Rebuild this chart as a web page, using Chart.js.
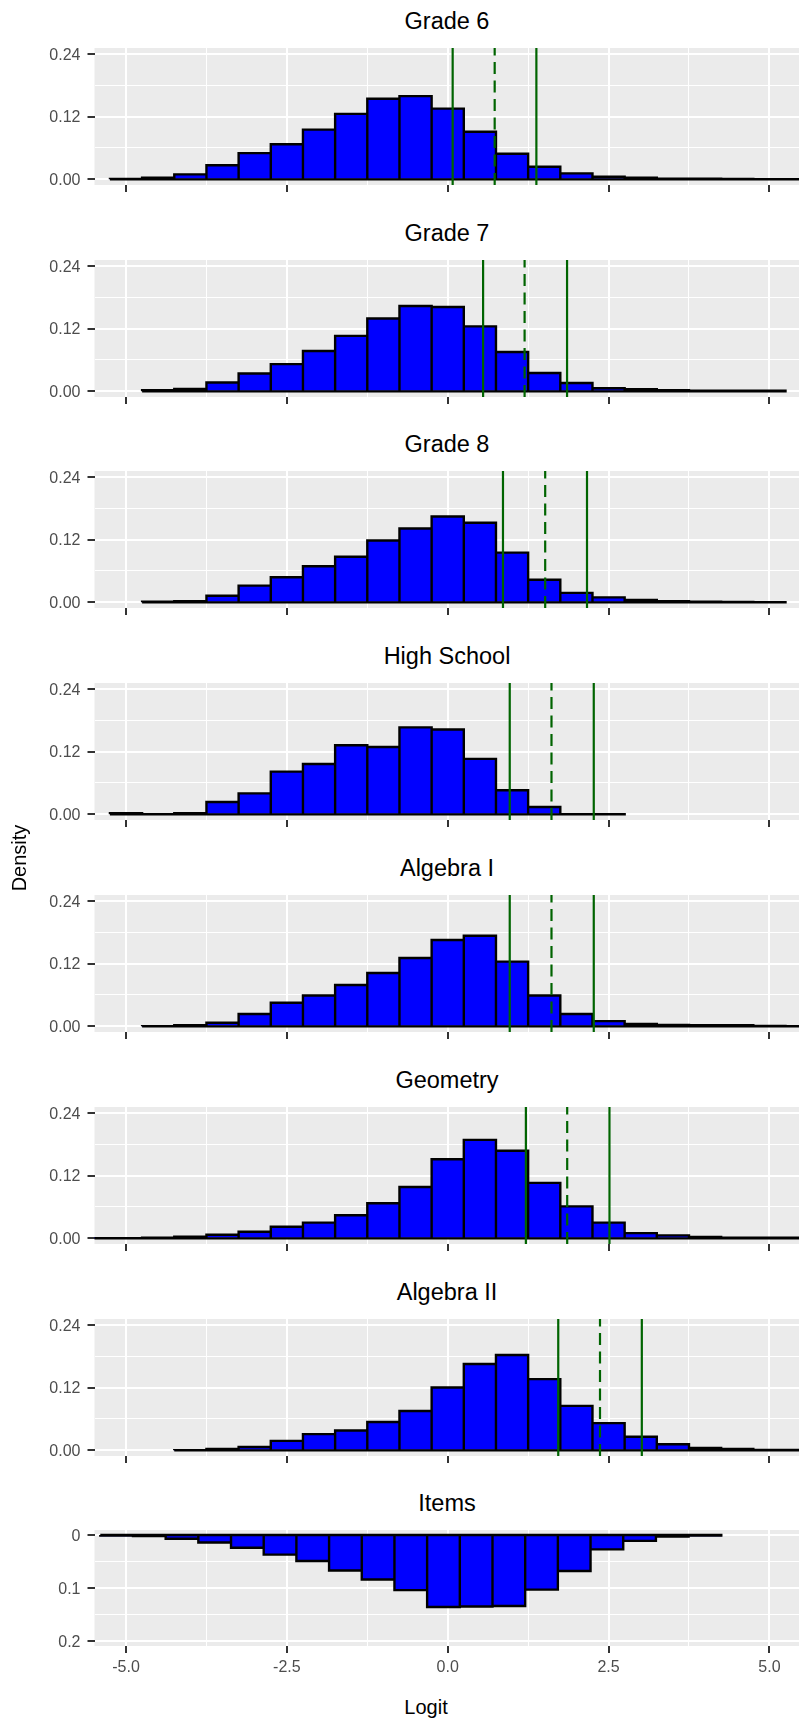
<!DOCTYPE html>
<html>
<head>
<meta charset="utf-8">
<script src="https://cdn.jsdelivr.net/npm/chart.js@4.4.1/dist/chart.umd.min.js"></script>
<style>
html,body{margin:0;padding:0;background:#fff;width:799px;height:1720px;overflow:hidden;font-family:"Liberation Sans",Arial,sans-serif;}
#wrap{position:relative;width:799px;height:1720px;overflow:hidden;}
.title{position:absolute;left:94.5px;width:705px;text-align:center;font-size:23.5px;line-height:24px;color:#000;white-space:nowrap;}
.axt{position:absolute;font-size:20px;line-height:24px;color:#000;white-space:nowrap;text-align:center;}
</style>
</head>
<body>
<div id="wrap"></div>
<script>
// ---------- data ----------
const panelTitles = ['Grade 6','Grade 7','Grade 8','High School','Algebra I','Geometry','Algebra II','Items'];

const xMajorTicks = [-5, -2.5, 0, 2.5, 5];
const xMinorTicks = [-3.75, -1.25, 1.25, 3.75];
const xTickLabels = ['-5.0', '-2.5', '0.0', '2.5', '5.0'];

const densityMajorTicks = [0, 0.12, 0.24];
const densityMinorTicks = [0.06, 0.18];
const densityTickLabels = ['0.00', '0.12', '0.24'];

const itemMajorTicks = [0, 0.1, 0.2];
const itemMinorTicks = [0.05, 0.15];
const itemTickLabels = ['0', '0.1', '0.2'];

const studentBinWidth = 0.5;
const itemBinWidth = 0.508;

const grade6Bins = [-5,-4.5,-4,-3.5,-3,-2.5,-2,-1.5,-1,-0.5,0,0.5,1,1.5,2,2.5,3,3.5,4,4.5,5,5.5];
const grade6Density = [0.0006,0.003,0.0095,0.027,0.050,0.067,0.095,0.125,0.154,0.159,0.135,0.091,0.049,0.024,0.0114,0.005,0.003,0.001,0.001,0.0008,0.0005,0.0005];
const grade6Cuts = [0.077, 0.73, 1.378];

const grade7Bins = [-4.5,-4,-3.5,-3,-2.5,-2,-1.5,-1,-0.5,0,0.5,1,1.5,2,2.5,3,3.5,4,4.5,5];
const grade7Density = [0.002,0.0045,0.017,0.034,0.052,0.077,0.106,0.139,0.163,0.161,0.124,0.075,0.035,0.016,0.006,0.004,0.002,0.001,0.001,0.001];
const grade7Cuts = [0.55, 1.195, 1.855];

const grade8Bins = [-4.5,-4,-3.5,-3,-2.5,-2,-1.5,-1,-0.5,0,0.5,1,1.5,2,2.5,3,3.5,4,4.5,5];
const grade8Density = [0.001,0.002,0.0127,0.032,0.048,0.069,0.087,0.118,0.141,0.164,0.152,0.095,0.043,0.018,0.0095,0.0045,0.002,0.001,0.0007,0.0005];
const grade8Cuts = [0.859, 1.515, 2.165];

const highSchoolBins = [-5,-4.5,-4,-3.5,-3,-2.5,-2,-1.5,-1,-0.5,0,0.5,1,1.5,2,2.5];
const highSchoolDensity = [0.002,0.0005,0.002,0.0236,0.040,0.0815,0.096,0.132,0.1286,0.166,0.162,0.106,0.046,0.014,0.0005,0.0005];
const highSchoolCuts = [0.964, 1.613, 2.27];

const algebra1Bins = [-4.5,-4,-3.5,-3,-2.5,-2,-1.5,-1,-0.5,0,0.5,1,1.5,2,2.5,3,3.5,4,4.5,5,5.5];
const algebra1Density = [0.0005,0.002,0.007,0.0236,0.045,0.059,0.079,0.102,0.1305,0.165,0.173,0.1235,0.059,0.0236,0.010,0.0045,0.0025,0.002,0.002,0.0008,0.0005];
const algebra1Cuts = [0.964, 1.613, 2.27];

const geometryBins = [-5.5,-5,-4.5,-4,-3.5,-3,-2.5,-2,-1.5,-1,-0.5,0,0.5,1,1.5,2,2.5,3,3.5,4,4.5,5,5.5];
const geometryDensity = [0.0005,0.0005,0.001,0.0032,0.007,0.0127,0.022,0.030,0.044,0.067,0.098,0.151,0.188,0.1674,0.106,0.061,0.030,0.010,0.0057,0.0025,0.001,0.001,0.001];
const geometryCuts = [1.215, 1.857, 2.514];

const algebra2Bins = [-4,-3.5,-3,-2.5,-2,-1.5,-1,-0.5,0,0.5,1,1.5,2,2.5,3,3.5,4,4.5,5,5.5];
const algebra2Density = [0.0005,0.0025,0.0064,0.018,0.031,0.038,0.054,0.075,0.120,0.165,0.182,0.136,0.085,0.052,0.026,0.0115,0.0045,0.0025,0.0008,0.0008];
const algebra2Cuts = [1.718, 2.367, 3.017];

const itemBins = [-5.146,-4.638,-4.13,-3.622,-3.114,-2.606,-2.098,-1.59,-1.082,-0.574,-0.066,0.442,0.95,1.458,1.966,2.474,2.982,3.49,3.998];
const itemDensity = [0.001,0.002,0.007,0.014,0.024,0.037,0.049,0.067,0.084,0.104,0.136,0.135,0.134,0.103,0.068,0.027,0.011,0.003,0.001];

const cutLineStyles = ['solid', 'dashed', 'solid'];

// ---------- layout / style ----------
const X_MIN = -5.49, X_MAX = 5.46;
const PANEL_LEFT = 94.5;
const FIRST_TOP = 47.7, PANEL_STEP = 211.8;
const DENSITY_H = 137.3, ITEMS_H = 115.7;
const DENSITY_RANGE = [-0.0108, 0.2508];
const ITEMS_RANGE = [-0.0095, 0.2095];
const PAD_T = 22;

Chart.defaults.font.family = "'Liberation Sans', Arial, sans-serif";

const panels = [
  {bins: grade6Bins, vals: grade6Density, cuts: grade6Cuts},
  {bins: grade7Bins, vals: grade7Density, cuts: grade7Cuts},
  {bins: grade8Bins, vals: grade8Density, cuts: grade8Cuts},
  {bins: highSchoolBins, vals: highSchoolDensity, cuts: highSchoolCuts},
  {bins: algebra1Bins, vals: algebra1Density, cuts: algebra1Cuts},
  {bins: geometryBins, vals: geometryDensity, cuts: geometryCuts},
  {bins: algebra2Bins, vals: algebra2Density, cuts: algebra2Cuts},
  {bins: itemBins, vals: itemDensity, cuts: [], items: true}
];

const panelBg = {
  id: 'panelBg',
  beforeDraw(chart) {
    const {ctx, chartArea: a} = chart;
    ctx.save();
    ctx.fillStyle = '#EBEBEB';
    ctx.fillRect(a.left, a.top, a.right - a.left, a.bottom - a.top);
    ctx.restore();
  }
};

function near(list, v) { return list.findIndex(t => Math.abs(t - v) < 1e-9); }

function outlinePoints(centers, values, w) {
  const pts = [];
  for (let i = 0; i < centers.length; i++) {
    const l = centers[i] - w / 2, r = centers[i] + w / 2;
    pts.push({x: l, y: 0}, {x: l, y: values[i]}, {x: r, y: values[i]}, {x: r, y: 0});
  }
  pts.push({x: centers[0] - w / 2, y: 0});
  return pts;
}

const wrap = document.getElementById('wrap');

panels.forEach((p, k) => {
  const isItems = !!p.items;
  const top = FIRST_TOP + PANEL_STEP * k;
  const h = isItems ? ITEMS_H : DENSITY_H;
  const range = isItems ? ITEMS_RANGE : DENSITY_RANGE;
  const yMajor = isItems ? itemMajorTicks : densityMajorTicks;
  const yMinor = isItems ? itemMinorTicks : densityMinorTicks;
  const yLabels = isItems ? itemTickLabels : densityTickLabels;
  const w = isItems ? itemBinWidth : studentBinWidth;
  const showX = isItems;
  const XH = showX ? 34 : 24;

  // title
  const t = document.createElement('div');
  t.className = 'title';
  t.style.top = (top - 38.9) + 'px';
  t.textContent = panelTitles[k];
  wrap.appendChild(t);

  const canvas = document.createElement('canvas');
  canvas.width = 799;
  canvas.height = Math.round(PAD_T + h + XH);
  canvas.style.position = 'absolute';
  canvas.style.left = '0px';
  canvas.style.top = (top - PAD_T) + 'px';
  wrap.appendChild(canvas);

  const datasets = [
    {
      type: 'bar',
      data: p.bins.map((c, i) => ({x: c, y: p.vals[i]})),
      backgroundColor: '#0000FF',
      borderWidth: 0,
      barPercentage: 1,
      categoryPercentage: 1,
      order: 3
    },
    {
      type: 'line',
      data: outlinePoints(p.bins, p.vals, w),
      borderColor: '#000000',
      borderWidth: 2.4,
      pointRadius: 0,
      fill: false,
      tension: 0,
      order: 2
    }
  ];
  p.cuts.forEach((v, j) => {
    datasets.push({
      type: 'line',
      data: [{x: v, y: range[0]}, {x: v, y: range[1]}],
      borderColor: '#006400',
      borderWidth: 2.2,
      borderDash: cutLineStyles[j] === 'dashed' ? [12, 6.5] : [],
      pointRadius: 0,
      fill: false,
      order: 1
    });
  });

  const xTicksAll = xMajorTicks.concat(xMinorTicks).sort((a, b) => a - b);
  const yTicksAll = yMajor.concat(yMinor).sort((a, b) => a - b);

  new Chart(canvas, {
    type: 'bar',
    data: {datasets},
    options: {
      responsive: false,
      animation: false,
      events: [],
      layout: {padding: {top: PAD_T, left: 0, right: 0, bottom: 0}},
      plugins: {legend: {display: false}, tooltip: {enabled: false}, title: {display: false}},
      scales: {
        x: {
          type: 'linear',
          min: X_MIN, max: X_MAX,
          offset: false,
          afterBuildTicks: (s) => { s.ticks = xTicksAll.map(v => ({value: v})); },
          afterFit: (s) => { s.height = XH; },
          border: {display: false},
          grid: {
            offset: false,
            color: '#FFFFFF',
            lineWidth: (c) => (c.tick && near(xMajorTicks, c.tick.value) >= 0) ? 2 : 1,
            drawTicks: true,
            tickLength: 7,
            tickWidth: 2,
            tickColor: (c) => (c.tick && near(xMajorTicks, c.tick.value) >= 0) ? '#333333' : 'rgba(0,0,0,0)'
          },
          ticks: {
            display: showX,
            autoSkip: false,
            maxRotation: 0,
            minRotation: 0,
            padding: 5,
            color: '#4D4D4D',
            font: {size: 16},
            callback: (v) => { const i = near(xMajorTicks, v); return i >= 0 ? xTickLabels[i] : ''; }
          }
        },
        y: {
          type: 'linear',
          min: range[0], max: range[1],
          reverse: isItems,
          afterBuildTicks: (s) => { s.ticks = yTicksAll.map(v => ({value: v})); },
          afterFit: (s) => { s.width = PANEL_LEFT; },
          border: {display: false},
          grid: {
            color: '#FFFFFF',
            lineWidth: (c) => (c.tick && near(yMajor, c.tick.value) >= 0) ? 2 : 1,
            drawTicks: true,
            tickLength: 7,
            tickWidth: 2,
            tickColor: (c) => (c.tick && near(yMajor, c.tick.value) >= 0) ? '#333333' : 'rgba(0,0,0,0)'
          },
          ticks: {
            autoSkip: false,
            padding: 7,
            labelOffset: 1.5,
            color: '#4D4D4D',
            font: {size: 16},
            callback: (v) => { const i = near(yMajor, v); return i >= 0 ? yLabels[i] : ''; }
          }
        }
      }
    },
    plugins: [panelBg]
  });
});

// axis titles
const yTitle = document.createElement('div');
yTitle.className = 'axt';
yTitle.textContent = 'Density';
yTitle.style.width = '120px';
yTitle.style.left = (18.6 - 60) + 'px';
yTitle.style.top = (858 - 12) + 'px';
yTitle.style.transform = 'rotate(-90deg)';
wrap.appendChild(yTitle);

const xTitle = document.createElement('div');
xTitle.className = 'axt';
xTitle.textContent = 'Logit';
xTitle.style.width = '120px';
xTitle.style.left = (426 - 60) + 'px';
xTitle.style.top = '1695px';
wrap.appendChild(xTitle);
</script>
</body>
</html>
